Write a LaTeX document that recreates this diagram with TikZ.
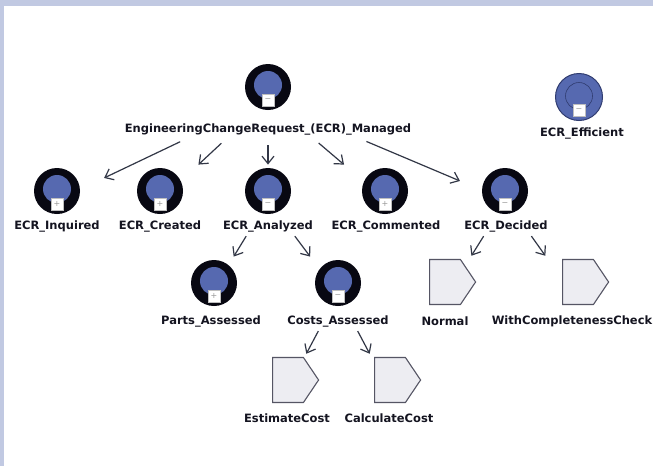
\documentclass[tikz,border=0pt]{standalone}
\usepackage{fontspec}
\setmainfont{DejaVu Sans}
\usetikzlibrary{arrows.meta, shapes.symbols, fit}
\definecolor{frameblue}{RGB}{193,201,226}
\definecolor{goalblue}{RGB}{86,105,176}
\definecolor{goalblack}{RGB}{8,8,18}
\definecolor{ringblue}{RGB}{48,60,112}
\definecolor{taskfill}{RGB}{237,237,242}
\definecolor{taskline}{RGB}{85,85,100}
\definecolor{linkgray}{RGB}{50,55,70}
\definecolor{textdark}{RGB}{20,20,32}

\tikzset{
  goal/.style={circle, fill=goalblack, minimum size=46pt, inner sep=0pt,
    path picture={\fill[goalblue] ([yshift=2pt]path picture bounding box.center) circle (14pt);}},
  softgoal/.style={circle, fill=goalblue, draw=ringblue, line width=1pt, minimum size=47pt, inner sep=0pt,
    path picture={\draw[ringblue, line width=0.6pt] ([yshift=1pt]path picture bounding box.center) circle (13.5pt);}},
  toggle/.style={rectangle, fill=white, draw=black!25, line width=0.4pt, minimum size=12pt, inner sep=0pt,
    text=black!40, font=\fontsize{8}{8}\selectfont},
  task/.style={signal, signal to=east, signal pointer angle=112, fill=taskfill, draw=taskline,
    line width=1.1pt, minimum width=46pt, minimum height=45pt, inner sep=0pt},
  lbl/.style={font=\bfseries\fontsize{11.5}{13}\selectfont, text=textdark, inner sep=1pt},
  group/.style={inner sep=3pt},
  link/.style={draw=linkgray, line width=1.2pt, -{Straight Barb[length=7.5pt,width=12pt]}}
}

\begin{document}
\begin{tikzpicture}[x=1pt, y=-1pt]
% Frame
\useasboundingbox (0,0) rectangle (653,466);
\fill[frameblue] (0,0) rectangle (653,466);
\fill[white] (4,6) rectangle (653,466);

% Top goal
\node[goal] (root) at (268,87) {};
\node[toggle] (root-t) at (268,100) {−};
\node[lbl] (root-l) at (268,129) {EngineeringChangeRequest\_(ECR)\_Managed};

% Soft goal
\node[softgoal] (eff) at (579,97) {};
\node[toggle] (eff-t) at (579,110) {−};
\node[lbl] (eff-l) at (582,133) {ECR\_Efficient};

% Row 2
\node[goal] (inq) at (57,191) {};
\node[toggle] (inq-t) at (57,204) {+};
\node[lbl] (inq-l) at (57,226) {ECR\_Inquired};

\node[goal] (cre) at (160,191) {};
\node[toggle] (cre-t) at (160,204) {+};
\node[lbl] (cre-l) at (160,226) {ECR\_Created};

\node[goal] (ana) at (268,191) {};
\node[toggle] (ana-t) at (268,204) {−};
\node[lbl] (ana-l) at (268,226) {ECR\_Analyzed};

\node[goal] (com) at (385,191) {};
\node[toggle] (com-t) at (385,204) {+};
\node[lbl] (com-l) at (386,226) {ECR\_Commented};

\node[goal] (dec) at (505,191) {};
\node[toggle] (dec-t) at (505,204) {−};
\node[lbl] (dec-l) at (506,226) {ECR\_Decided};

% Row 3
\node[goal] (parts) at (214,283) {};
\node[toggle] (parts-t) at (214,296) {+};
\node[lbl] (parts-l) at (211,321) {Parts\_Assessed};

\node[goal] (costs) at (338,283) {};
\node[toggle] (costs-t) at (338,296) {−};
\node[lbl] (costs-l) at (338,321) {Costs\_Assessed};

\node[task] (normal) at (445,282) {};
\node[lbl] (normal-l) at (445,321) {Normal};

\node[task] (wcc) at (578,282) {};
\node[lbl] (wcc-l) at (572,321) {WithCompletenessCheck};

% Row 4
\node[task] (est) at (288,380) {};
\node[lbl] (est-l) at (287,418) {EstimateCost};

\node[task] (calc) at (390,380) {};
\node[lbl] (calc-l) at (389,418) {CalculateCost};

% Groups
\node[group, fit=(root)(root-l)] (root-g) {};
\node[group, fit=(inq)(inq-l)] (inq-g) {};
\node[group, fit=(cre)(cre-l)] (cre-g) {};
\node[group, fit=(ana)(ana-l)] (ana-g) {};
\node[group, fit=(com)(com-l)] (com-g) {};
\node[group, fit=(dec)(dec-l)] (dec-g) {};
\node[group, fit=(parts)(parts-l)] (parts-g) {};
\node[group, fit=(costs)(costs-l)] (costs-g) {};
\node[group, fit=(normal)(normal-l)] (normal-g) {};
\node[group, fit=(wcc)(wcc-l)] (wcc-g) {};
\node[group, fit=(est)(est-l)] (est-g) {};
\node[group, fit=(calc)(calc-l)] (calc-g) {};

% Links
\foreach \t in {inq, cre, ana, com, dec}
  \draw[link, shorten <=6pt] (root-g) -- (\t-g);
\draw[link] (ana-g) -- (parts-g);
\draw[link] (ana-g) -- (costs-g);
\draw[link] (dec-g) -- (normal-g);
\draw[link] (dec-g) -- (wcc-g);
\draw[link] (costs-g) -- (est-g);
\draw[link] (costs-g) -- (calc-g);
\end{tikzpicture}
\end{document}
